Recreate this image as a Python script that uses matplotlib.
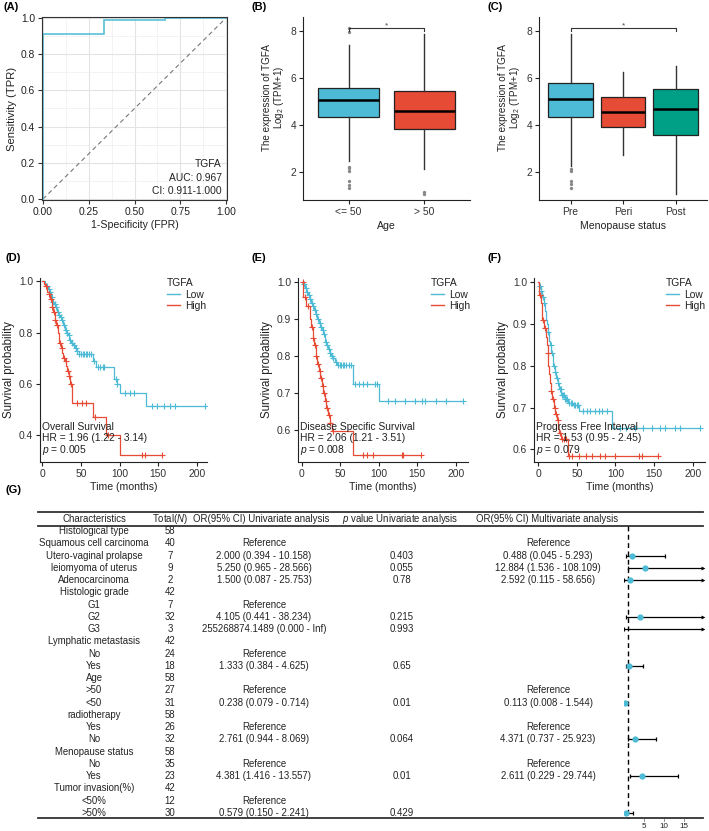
import numpy as np
import matplotlib
matplotlib.use('Agg')
import matplotlib.pyplot as plt
from matplotlib.lines import Line2D

plt.rcParams['font.family'] = ['Liberation Sans', 'DejaVu Sans']
plt.rcParams['mathtext.fontset'] = 'custom'
plt.rcParams['mathtext.rm'] = 'Liberation Sans'
plt.rcParams['mathtext.it'] = 'Liberation Sans:italic'

W, H = 709, 831
BLUE = '#4DBBD5'
RED = '#E64B35'
GREEN = '#00A087'
TXT = '#222222'

# ---------------- data ----------------
roc_fpr = [0.0, 0.0, 0.333, 0.333, 0.667, 0.667, 1.0]
roc_tpr = [0.0, 0.91, 0.91, 0.99, 0.99, 1.0, 1.0]

age_groups = ['<= 50', '> 50']
age_med = [5.06, 4.60]
age_q1 = [4.33, 3.83]
age_q3 = [5.59, 5.46]
age_wlo = [2.45, 2.13]
age_whi = [7.39, 7.89]
age_fliers = [[8.12, 7.95, 2.2, 2.15, 2.05, 1.6, 1.45, 1.3], [1.15, 1.05]]

meno_groups = ['Pre', 'Peri', 'Post']
meno_med = [5.12, 4.57, 4.67]
meno_q1 = [4.33, 3.93, 3.55]
meno_q3 = [5.80, 5.18, 5.52]
meno_wlo = [2.24, 2.72, 1.04]
meno_whi = [7.89, 6.24, 6.50]
meno_fliers = [[2.12, 2.05, 1.6, 1.5, 1.3], [], []]

D_low_t = [3, 5, 7, 9, 11, 13, 15, 17, 19, 21, 23, 25, 27, 29, 31, 33, 35, 37, 40, 42, 44, 47, 66, 69, 93, 96, 100, 134]
D_low_s = [0.99, 0.98, 0.97, 0.96, 0.94, 0.92, 0.91, 0.90, 0.88, 0.87, 0.86, 0.85, 0.83, 0.81, 0.80, 0.79, 0.77, 0.76, 0.75, 0.74, 0.73, 0.715, 0.69, 0.667, 0.62, 0.60, 0.563, 0.515]
D_low_c = [6, 8, 10, 12, 14, 16, 18, 20, 22, 24, 26, 28, 30, 32, 34, 36, 38, 41, 43, 45, 48, 50, 52, 54, 56, 58, 60, 63, 67, 72, 75, 78, 80, 95, 97, 107, 113, 118, 142, 148, 157, 165, 172, 210]
D_high_t = [2, 4, 6, 8, 10, 12, 14, 16, 18, 20, 21, 22, 24, 26, 27, 29, 31, 32, 34, 36, 38, 65, 82, 100]
D_high_s = [0.99, 0.98, 0.96, 0.95, 0.93, 0.90, 0.88, 0.85, 0.83, 0.80, 0.78, 0.76, 0.74, 0.72, 0.70, 0.69, 0.67, 0.65, 0.63, 0.60, 0.525, 0.47, 0.40, 0.322]
D_high_c = [5, 9, 11, 13, 15, 17, 19, 23, 25, 28, 30, 33, 35, 37, 45, 51, 57, 68, 85, 129, 133, 155]

E_low_t = [2, 4, 6, 8, 10, 12, 14, 16, 18, 20, 22, 24, 26, 28, 30, 32, 34, 36, 38, 40, 43, 46, 66, 100]
E_low_s = [0.995, 0.985, 0.975, 0.965, 0.955, 0.945, 0.935, 0.925, 0.915, 0.90, 0.89, 0.88, 0.87, 0.86, 0.84, 0.83, 0.82, 0.81, 0.80, 0.795, 0.785, 0.776, 0.724, 0.678]
E_low_c = [3, 5, 7, 9, 11, 13, 15, 17, 19, 21, 23, 25, 27, 29, 31, 33, 35, 37, 39, 41, 44, 47, 49, 51, 53, 55, 58, 61, 64, 69, 74, 80, 85, 95, 98, 112, 121, 134, 147, 156, 160, 175, 188, 210]
E_high_t = [2, 6, 10, 11, 12, 14, 16, 18, 20, 22, 24, 26, 28, 30, 32, 34, 36, 39, 66]
E_high_s = [0.96, 0.935, 0.925, 0.90, 0.88, 0.85, 0.83, 0.80, 0.78, 0.76, 0.74, 0.72, 0.70, 0.68, 0.66, 0.64, 0.62, 0.598, 0.532]
E_high_c = [1, 4, 8, 13, 15, 17, 19, 21, 23, 25, 27, 29, 31, 33, 35, 37, 41, 79, 85, 93, 130, 132, 155]

F_low_t = [1, 3, 5, 7, 9, 10, 11, 12, 14, 15, 17, 19, 21, 23, 25, 27, 30, 34, 39, 45, 53, 96]
F_low_s = [0.99, 0.98, 0.965, 0.95, 0.93, 0.91, 0.90, 0.88, 0.86, 0.85, 0.83, 0.80, 0.785, 0.77, 0.76, 0.745, 0.73, 0.72, 0.71, 0.707, 0.692, 0.652]
F_low_c = [2, 4, 6, 8, 13, 16, 18, 20, 22, 24, 26, 28, 29, 31, 32, 33, 35, 36, 37, 40, 42, 44, 46, 48, 50, 52, 58, 63, 67, 73, 78, 82, 89, 106, 114, 125, 136, 147, 158, 164, 177, 184, 210]
F_high_t = [0.5, 3, 5, 8, 10, 11, 12, 13, 14, 15, 16, 18, 20, 22, 24, 26, 27, 29, 39]
F_high_s = [0.97, 0.95, 0.91, 0.89, 0.87, 0.85, 0.83, 0.80, 0.78, 0.76, 0.74, 0.72, 0.70, 0.685, 0.67, 0.65, 0.64, 0.625, 0.585]
F_high_c = [2, 6, 9, 12.5, 17, 19, 21, 23, 25, 28, 31, 33, 36, 40, 44, 53, 62, 70, 80, 87, 100, 130, 135, 155]

km_titles = ['Overall Survival', 'Disease Specific Survival', 'Progress Free Interval']
km_hr = ['HR = 1.96 (1.22 - 3.14)', 'HR = 2.06 (1.21 - 3.51)', 'HR = 1.53 (0.95 - 2.45)']
km_p = ['0.005', '0.008', '0.079']

characteristics = ['Histological type', 'Squamous cell carcinoma', 'Utero-vaginal prolapse',
                   'leiomyoma of uterus', 'Adenocarcinoma', 'Histologic grade', 'G1', 'G2', 'G3',
                   'Lymphatic metastasis', 'No', 'Yes', 'Age', '>50', '<50', 'radiotherapy', 'Yes', 'No',
                   'Menopause status', 'No', 'Yes', 'Tumor invasion(%)', '<50%', '>50%']
totals = ['58', '40', '7', '9', '2', '42', '7', '32', '3', '42', '24', '18', '58', '27', '31', '58',
          '26', '32', '58', '35', '23', '42', '12', '30']
uni_text = ['', 'Reference', '2.000 (0.394 - 10.158)', '5.250 (0.965 - 28.566)', '1.500 (0.087 - 25.753)',
            '', 'Reference', '4.105 (0.441 - 38.234)', '255268874.1489 (0.000 - Inf)', '', 'Reference',
            '1.333 (0.384 - 4.625)', '', 'Reference', '0.238 (0.079 - 0.714)', '', 'Reference',
            '2.761 (0.944 - 8.069)', '', 'Reference', '4.381 (1.416 - 13.557)', '', 'Reference',
            '0.579 (0.150 - 2.241)']
p_text = ['', '', '0.403', '0.055', '0.78', '', '', '0.215', '0.993', '', '', '0.65', '', '', '0.01', '',
          '', '0.064', '', '', '0.01', '', '', '0.429']
multi_text = ['', 'Reference', '0.488 (0.045 - 5.293)', '12.884 (1.536 - 108.109)', '2.592 (0.115 - 58.656)',
              '', '', '', '', '', '', '', '', 'Reference', '0.113 (0.008 - 1.544)', '', 'Reference',
              '4.371 (0.737 - 25.923)', '', 'Reference', '2.611 (0.229 - 29.744)', '', '', '']
nan = np.nan
or_uni = [nan, nan, 2.000, 5.250, 1.500, nan, nan, 4.105, 255268874.1489, nan, nan, 1.333, nan, nan, 0.238,
          nan, nan, 2.761, nan, nan, 4.381, nan, nan, 0.579]
lo_uni = [nan, nan, 0.394, 0.965, 0.087, nan, nan, 0.441, 0.000, nan, nan, 0.384, nan, nan, 0.079,
          nan, nan, 0.944, nan, nan, 1.416, nan, nan, 0.150]
hi_uni = [nan, nan, 10.158, 28.566, 25.753, nan, nan, 38.234, np.inf, nan, nan, 4.625, nan, nan, 0.714,
          nan, nan, 8.069, nan, nan, 13.557, nan, nan, 2.241]
forest_ticks = [5, 10, 15]

# ---------------- figure ----------------
fig = plt.figure(figsize=(W / 100, H / 100), dpi=100)


def rect(l, t, r, b):
    return [l / W, 1 - b / H, (r - l) / W, (b - t) / H]


FS_TICK = 7.4
FS_LAB = 7.6
FS_TAB = 6.9


def style_classic(ax):
    for s in ['top', 'right']:
        ax.spines[s].set_visible(False)
    for s in ['left', 'bottom']:
        ax.spines[s].set_color('#222222')
        ax.spines[s].set_linewidth(0.8)
    ax.tick_params(labelsize=FS_TICK, length=3, width=0.8, color='#222222', labelcolor='#333333', pad=2)


def plabel(x, y, s):
    fig.text(x / W, 1 - y / H, s, fontsize=8, fontweight='bold', ha='left', va='center', color='black')


# Panel A: ROC
axA = fig.add_axes(rect(42, 17, 227, 200))
axA.plot([0, 1], [0, 1], ls=(0, (4, 3)), color='#777777', lw=0.8)
axA.plot(roc_fpr, roc_tpr, color=BLUE, lw=1.1, solid_joinstyle='miter')
axA.set_xlim(-0.005, 1.005)
axA.set_ylim(-0.005, 1.005)
axA.set_xticks([0, 0.25, 0.5, 0.75, 1.0])
axA.set_xticklabels(['0.00', '0.25', '0.50', '0.75', '1.00'])
axA.set_yticks([0, 0.2, 0.4, 0.6, 0.8, 1.0])
axA.set_yticklabels(['0.0', '0.2', '0.4', '0.6', '0.8', '1.0'])
axA.set_xticks(np.arange(0.125, 1, 0.25), minor=True)
axA.set_yticks(np.arange(0.1, 1, 0.2), minor=True)
axA.grid(True, which='major', color='#E3E3E3', lw=0.8)
axA.grid(True, which='minor', color='#EFEFEF', lw=0.5)
axA.tick_params(which='minor', length=0)
axA.set_axisbelow(True)
for s in axA.spines.values():
    s.set_color('#333333')
    s.set_linewidth(0.8)
axA.tick_params(labelsize=FS_TICK, length=3, width=0.8, color='#333333', labelcolor='#222222', pad=2)
axA.set_xlabel('1-Specificity (FPR)', fontsize=FS_LAB, color=TXT, labelpad=2)
axA.set_ylabel('Sensitivity (TPR)', fontsize=8.1, color=TXT, labelpad=3)
for yv, s in zip([0.193, 0.115, 0.046], ['TGFA', 'AUC: 0.967', 'CI: 0.911-1.000']):
    axA.text(0.975, yv, s, fontsize=FS_TICK, ha='right', va='center', color=TXT)
plabel(3, 7, '(A)')


def boxpanel(ax, groups, med, q1, q3, wlo, whi, fliers, colors, width, bracket):
    stats = []
    for i in range(len(groups)):
        stats.append(dict(med=med[i], q1=q1[i], q3=q3[i], whislo=wlo[i], whishi=whi[i], fliers=fliers[i]))
    pos = np.arange(1, len(groups) + 1)
    bp = ax.bxp(stats, positions=pos, widths=width, patch_artist=True, showcaps=False,
                boxprops=dict(lw=0.9, edgecolor='#222222'),
                medianprops=dict(color='black', lw=1.8),
                whiskerprops=dict(color='#333333', lw=1.0),
                flierprops=dict(marker='o', markersize=1.4, markerfacecolor='#888888',
                                markeredgecolor='#888888'))
    for patch, c in zip(bp['boxes'], colors):
        patch.set_facecolor(c)
    ax.set_xlim(0.4, len(groups) + 0.6)
    ax.set_ylim(0.8, 8.6)
    ax.set_yticks([2, 4, 6, 8])
    ax.set_xticks(pos)
    ax.set_xticklabels(groups)
    style_classic(ax)
    x1, x2 = bracket
    ax.plot([x1, x1, x2, x2], [8.0, 8.13, 8.13, 8.0], color='#333333', lw=0.8)
    ax.text((x1 + x2) / 2, 8.22, '*', ha='center', va='center', fontsize=6, color='#444444')
    ax.set_ylabel('The expression of TGFA\nLog$_2$ (TPM+1)', fontsize=7.1, color=TXT,
                  labelpad=3, linespacing=1.0)
    ax.yaxis.label.set_y(0.56)


axB = fig.add_axes(rect(303, 17, 470, 200))
boxpanel(axB, age_groups, age_med, age_q1, age_q3, age_wlo, age_whi, age_fliers, [BLUE, RED], 0.81, (1, 2))
axB.set_xlabel('Age', fontsize=FS_LAB, color=TXT, labelpad=3)
plabel(252, 7, '(B)')

axC = fig.add_axes(rect(539, 17, 707, 200))
boxpanel(axC, meno_groups, meno_med, meno_q1, meno_q3, meno_wlo, meno_whi, meno_fliers,
         [BLUE, RED, GREEN], 0.84, (1, 3))
axC.set_xlabel('Menopause status', fontsize=FS_LAB, color=TXT, labelpad=3)
plabel(487, 7, '(C)')


def km_curve(ax, t, s, c, color):
    t_all = [0] + list(t)
    s_all = [1.0] + list(s)
    tmax = max(max(c), t_all[-1])
    t_all.append(tmax)
    s_all.append(s_all[-1])
    ax.step(t_all, s_all, where='post', color=color, lw=0.9)
    idx = np.searchsorted(np.array(t_all[:-1]), np.array(c), side='right') - 1
    ax.plot(c, np.array(s_all)[idx], ls='none', marker='+', markersize=5, mew=0.8, color=color)


def km_panel(rc, lt, ls, lc, hlt, hs, hc, ylim, yticks, xlim, k, legx):
    ax = fig.add_axes(rect(*rc))
    km_curve(ax, lt, ls, lc, BLUE)
    km_curve(ax, hlt, hs, hc, RED)
    ax.set_xlim(*xlim)
    ax.set_ylim(*ylim)
    ax.set_xticks([0, 50, 100, 150, 200])
    ax.set_yticks(yticks)
    ax.set_yticklabels(['%.1f' % v for v in yticks])
    style_classic(ax)
    ax.set_xlabel('Time (months)', fontsize=FS_LAB, color=TXT, labelpad=2)
    ax.set_ylabel('Survival probability', fontsize=8.3, color=TXT, labelpad=3)
    handles = [Line2D([], [], color=BLUE, lw=1), Line2D([], [], color=RED, lw=1)]
    leg = ax.legend(handles, ['Low', 'High'], title='TGFA', loc='upper left', bbox_to_anchor=(legx, 0.998),
                    frameon=False, fontsize=FS_TICK, title_fontsize=FS_TICK, handlelength=1.3,
                    handletextpad=0.5, labelspacing=0.12, borderaxespad=0, borderpad=0,
                    alignment='left')
    for tx in leg.get_texts():
        tx.set_color(TXT)
    leg.get_title().set_color(TXT)
    ax.text(0.01, 0.189, km_titles[k], transform=ax.transAxes, fontsize=FS_TICK, ha='left', va='center', color=TXT)
    ax.text(0.01, 0.129, km_hr[k], transform=ax.transAxes, fontsize=FS_TICK, ha='left', va='center', color=TXT)
    ax.text(0.01, 0.066, '$\\it{p}$ = ' + km_p[k], transform=ax.transAxes, fontsize=FS_TICK, ha='left',
            va='center', color=TXT)
    return ax


km_panel((40, 278, 207, 462), D_low_t, D_low_s, D_low_c, D_high_t, D_high_s, D_high_c,
         (0.295, 1.013), [0.4, 0.6, 0.8, 1.0], (-3, 213), 0, 0.76)
plabel(5, 258, '(D)')
km_panel((298, 278, 468, 462), E_low_t, E_low_s, E_low_c, E_high_t, E_high_s, E_high_c,
         (0.514, 1.012), [0.6, 0.7, 0.8, 0.9, 1.0], (-5, 216), 1, 0.78)
plabel(252, 258, '(E)')
km_panel((534, 278, 705, 462), F_low_t, F_low_s, F_low_c, F_high_t, F_high_s, F_high_c,
         (0.57, 1.01), [0.6, 0.7, 0.8, 0.9, 1.0], (-5.6, 216), 2, 0.77)
plabel(487, 258, '(F)')

# Panel G: table + forest
plabel(5, 490, '(G)')
axG = fig.add_axes(rect(0, 490, W, H))
axG.set_xlim(0, W)
axG.set_ylim(H, 490)
axG.axis('off')
line_kw = dict(color='#333333', lw=1.3)
axG.plot([38, 703], [512, 512], **line_kw)
axG.plot([38, 703], [525.5, 525.5], **line_kw)
axG.plot([38, 703], [818, 818], **line_kw)
hy = 518.8
axG.text(94, hy, 'Characteristics', ha='center', va='center', fontsize=FS_TAB, color=TXT)
axG.text(170, hy, 'Total($\\it{N}$)', ha='center', va='center', fontsize=FS_TAB, color=TXT)
axG.text(261, hy, 'OR(95% CI) Univariate analysis', ha='center', va='center', fontsize=FS_TAB, color=TXT)
axG.text(400, hy, '$\\it{p}$ value Univariate analysis', ha='center', va='center', fontsize=FS_TAB, color=TXT)
axG.text(547, hy, 'OR(95% CI) Multivariate analysis', ha='center', va='center', fontsize=FS_TAB, color=TXT)

row_y0, row_dy = 531.0, 12.26
rows_y = [row_y0 + i * row_dy for i in range(len(characteristics))]
for i, y in enumerate(rows_y):
    axG.text(94, y, characteristics[i], ha='center', va='center', fontsize=FS_TAB, color=TXT)
    axG.text(170, y, totals[i], ha='center', va='center', fontsize=FS_TAB, color=TXT)
    if uni_text[i]:
        axG.text(264, y, uni_text[i], ha='center', va='center', fontsize=FS_TAB, color=TXT)
    if p_text[i]:
        axG.text(402, y, p_text[i], ha='center', va='center', fontsize=FS_TAB, color=TXT)
    if multi_text[i]:
        axG.text(548, y, multi_text[i], ha='center', va='center', fontsize=FS_TAB, color=TXT)

# forest
axF = fig.add_axes(rect(624, 490, 704, H))
XMAX = 19.8
axF.set_xlim(0, 20)
axF.set_ylim(H, 490)
axF.axis('off')
axF.plot([1, 1], [526, 818], color='black', lw=1.0, ls=(0, (3.5, 2.5)))
for i, y in enumerate(rows_y):
    o, l, h = or_uni[i], lo_uni[i], hi_uni[i]
    if np.isnan(o):
        continue
    hh = min(h, XMAX)
    axF.plot([l, hh], [y, y], color='black', lw=0.9, solid_capstyle='butt')
    axF.plot([l], [y], marker='|', markersize=3.5, mew=0.9, color='black')
    if h > XMAX:
        axF.plot([hh], [y], marker='>', markersize=2.8, color='black', mew=0)
    else:
        axF.plot([hh], [y], marker='|', markersize=3.5, mew=0.9, color='black')
    if o <= XMAX:
        axF.plot([o], [y], marker='o', markersize=4.5, color=BLUE, mew=0, zorder=5)
for tk in forest_ticks:
    axF.text(tk, 826, str(tk), ha='center', va='center', fontsize=5.8, color=TXT)
    axF.plot([tk, tk], [819, 821], color='#555555', lw=0.5)

fig.savefig('out.png', dpi=100)
